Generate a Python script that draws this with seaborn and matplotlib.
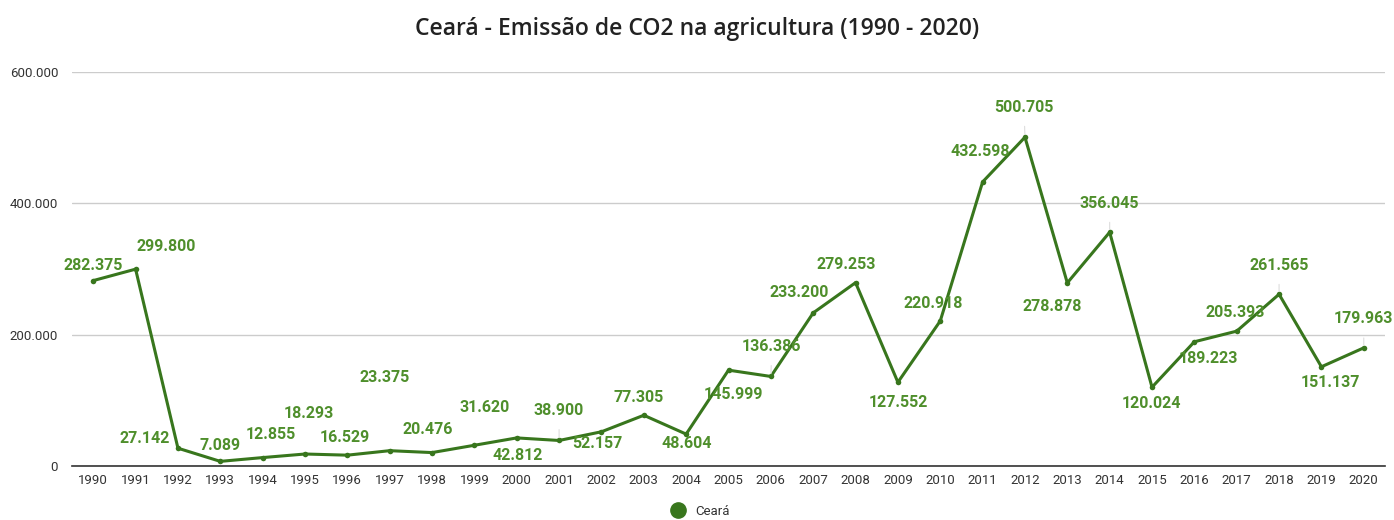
import matplotlib
matplotlib.use("Agg")
import matplotlib.pyplot as plt
from matplotlib.ticker import FuncFormatter
from matplotlib.lines import Line2D
import seaborn as sns
import pandas as pd

years = list(range(1990, 2021))
emissions = [282375, 299800, 27142, 7089, 12855, 18293, 16529, 23375, 20476, 31620,
             42812, 38900, 52157, 77305, 48604, 145999, 136386, 233200, 279253, 127552,
             220918, 432598, 500705, 278878, 356045, 120024, 189223, 205393, 261565, 151137,
             179963]
value_labels = ["282.375", "299.800", "27.142", "7.089", "12.855", "18.293", "16.529",
                "23.375", "20.476", "31.620", "42.812", "38.900", "52.157", "77.305",
                "48.604", "145.999", "136.386", "233.200", "279.253", "127.552", "220.918",
                "432.598", "500.705", "278.878", "356.045", "120.024", "189.223", "205.393",
                "261.565", "151.137", "179.963"]
y_ticks = [0, 200000, 400000, 600000]
title = "Ceará - Emissão de CO2 na agricultura (1990 - 2020)"
series_name = "Ceará"

# label placement relative to each point, in pixels (dx right, dy up)
label_offsets = [(0, 15), (31, 23), (-33, 10), (0, 16), (8, 23), (4, 41), (-3, 18),
                 (-5, 73), (-4, 23), (10, 38), (1, -18), (0, 30), (-4, -12), (-5, 18),
                 (1, -9), (5, -24), (1, 30), (-14, 20), (-9, 18), (0, -20), (-7, 17),
                 (-2, 30), (-1, 30), (-15, -24), (0, 29), (-1, -16), (14, -17), (-2, 19),
                 (0, 29), (9, -16), (0, 29)]
leader_years = {2001, 2006, 2012, 2014, 2018, 2020}

line_color = "#38761d"
label_color = "#4f8f2c"

sns.set_theme(style="white")
plt.rcParams["font.family"] = ["Roboto", "DejaVu Sans"]

df = pd.DataFrame({"idx": range(len(years)), "value": emissions})

fig = plt.figure(figsize=(13.94, 5.20), dpi=100)
ax = fig.add_axes([0.0517, 0.1038, 0.9418, 0.7577])

sns.lineplot(data=df, x="idx", y="value", ax=ax, color=line_color, linewidth=2.2,
             marker="o", markersize=4, markeredgewidth=0, zorder=3)

ax.set_xlim(-0.5, len(years) - 0.5)
ax.set_ylim(0, 600000)
ax.set_xticks(range(len(years)))
ax.set_xticklabels([str(y) for y in years], fontsize=9.5, color="#333333")
ax.set_yticks(y_ticks)
ax.yaxis.set_major_formatter(FuncFormatter(lambda v, p: f"{int(v):,}".replace(",", ".")))
ax.tick_params(axis="y", labelsize=9.5, labelcolor="#333333", length=0, pad=10)
ax.tick_params(axis="x", length=0, pad=6)
ax.set_xlabel("")
ax.set_ylabel("")
ax.grid(axis="y", color="#cccccc", linewidth=1)
ax.grid(axis="x", visible=False)
for side in ["left", "right", "top"]:
    ax.spines[side].set_visible(False)
ax.spines["bottom"].set_color("#333333")
ax.spines["bottom"].set_linewidth(1.2)

for i, (yr, val, txt, (dx, dy)) in enumerate(zip(years, emissions, value_labels, label_offsets)):
    arrow = None
    if yr in leader_years:
        arrow = dict(arrowstyle="-", color="#dddddd", lw=0.8, shrinkA=6, shrinkB=2)
    ax.annotate(txt, xy=(i, val), xytext=(dx, dy), textcoords="offset pixels",
                ha="center", va="center", fontsize=11.5, fontweight="bold",
                color=label_color, arrowprops=arrow, zorder=4)

fig.suptitle(title, x=0.5, y=0.968, fontsize=16.5, fontweight="semibold", color="#222222",
             family=["Open Sans", "DejaVu Sans"])

handle = Line2D([], [], marker="o", linestyle="", color=line_color, markersize=11)
fig.legend([handle], [series_name], loc="center", bbox_to_anchor=(0.5, 0.017),
           frameon=False, fontsize=9.5, handletextpad=0.3, labelcolor="#333333")

fig.savefig("out.png", dpi=100)
